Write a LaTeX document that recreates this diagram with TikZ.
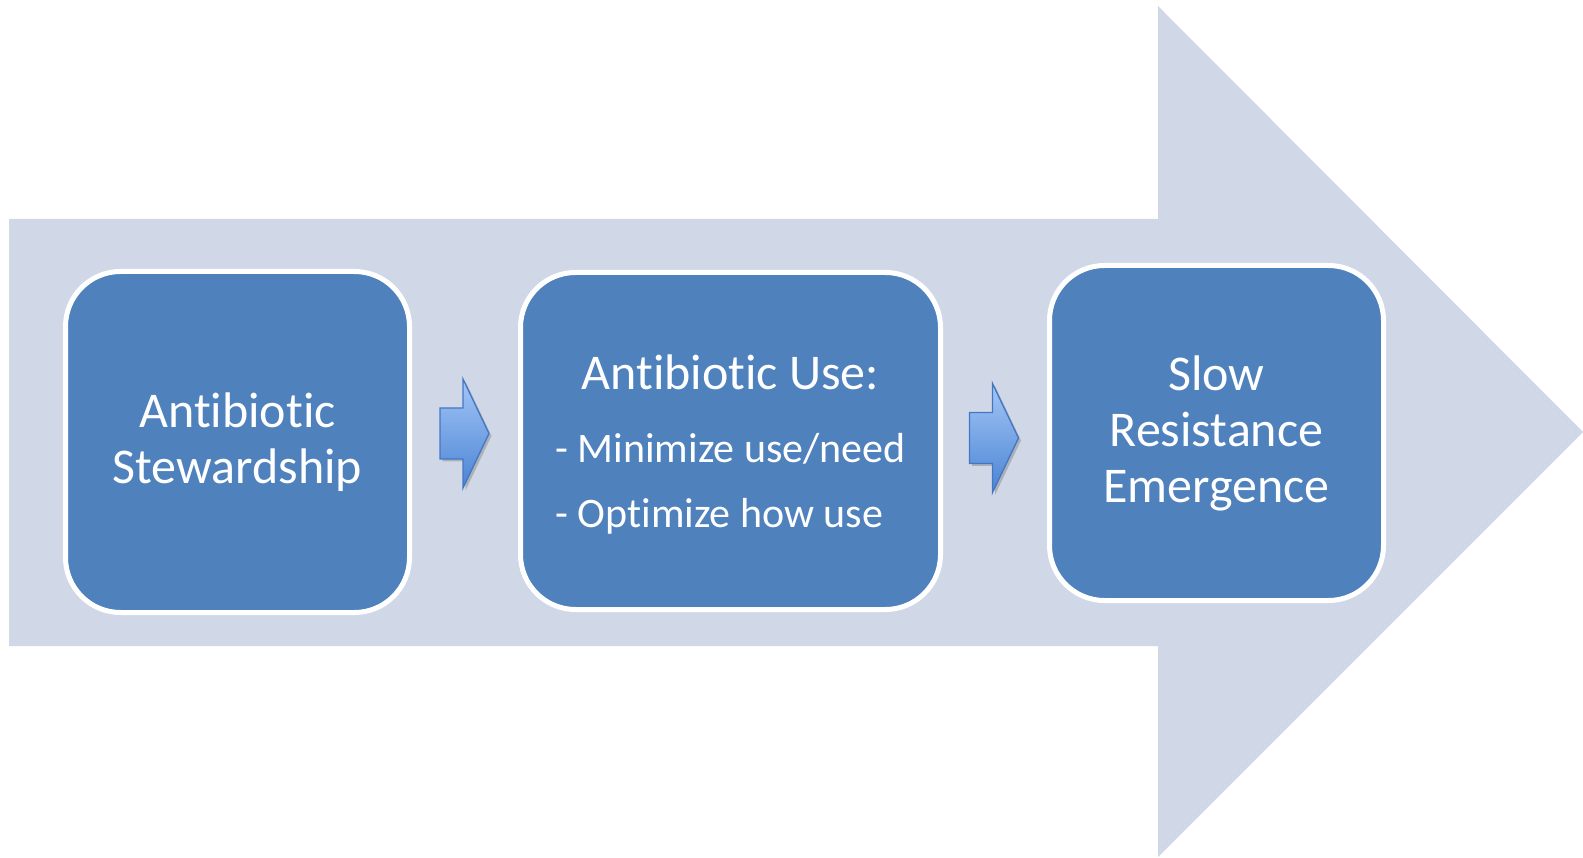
\documentclass[tikz,border=0pt]{standalone}
\usepackage{fontspec}
\setmainfont{Carlito}[Ligatures=NoCommon]
\usetikzlibrary{shadows}

\definecolor{bandcolor}{HTML}{D0D8E8}
\definecolor{boxcolor}{HTML}{4F81BD}
\definecolor{arrowtop}{HTML}{A4C6F6}
\definecolor{arrowbottom}{HTML}{4A84D4}
\definecolor{arrowedge}{HTML}{4377C3}

\begin{document}
\begin{tikzpicture}[x=1pt,y=-1pt]
\tikzset{
% Rounded boxes for the three stages, and the little block arrows between them
stage box/.style={rectangle,rounded corners=55pt,draw=white,line width=5pt,fill=boxcolor,
  text=white,align=center,inner sep=0pt,font=\fontsize{50}{56}\selectfont},
small arrow/.style={draw=arrowedge,line width=1.3pt,top color=arrowtop,bottom color=arrowbottom,
  drop shadow={shadow xshift=2.5pt,shadow yshift=-2.5pt,opacity=0.45}},
blockarrow/.pic={
  \path[small arrow] (-24.5,-25.5) -- (-1.5,-25.5) -- (-1.5,-54.5) -- (24.5,0)
    -- (-1.5,54.5) -- (-1.5,25.5) -- (-24.5,25.5) -- cycle;
}
}
\tikzstyle band=[fill=bandcolor]
\useasboundingbox (0,0) rectangle (1583,858);
% The big arrow behind everything
\fill[band] (9,219) -- (1158,219) -- (1158,6) -- (1583,432) -- (1158,857)
  -- (1158,646) -- (9,646) -- cycle;
% The three stages
\node(stew)[stage box,minimum width=344pt,minimum height=341pt] at (237.5,442)
  {Antibiotic\\Stewardship};
\node(use)[stage box,minimum width=420pt,minimum height=337pt] at (730.5,441)
  {\rule{0pt}{54pt}Antibiotic Use:\\[17pt]{\fontsize{42}{65}\selectfont
  \begin{tabular}[t]{@{}l@{}}- Minimize use/need\\- Optimize how use\end{tabular}}};
\node(slow)[stage box,minimum width=334pt,minimum height=335pt] at (1216.5,433)
  {Slow\\Resistance\\Emergence};
% Arrows between the stages
\pic at (464.5,433.5) {blockarrow};
\pic at (994,438) {blockarrow};
\end{tikzpicture}
\end{document}
